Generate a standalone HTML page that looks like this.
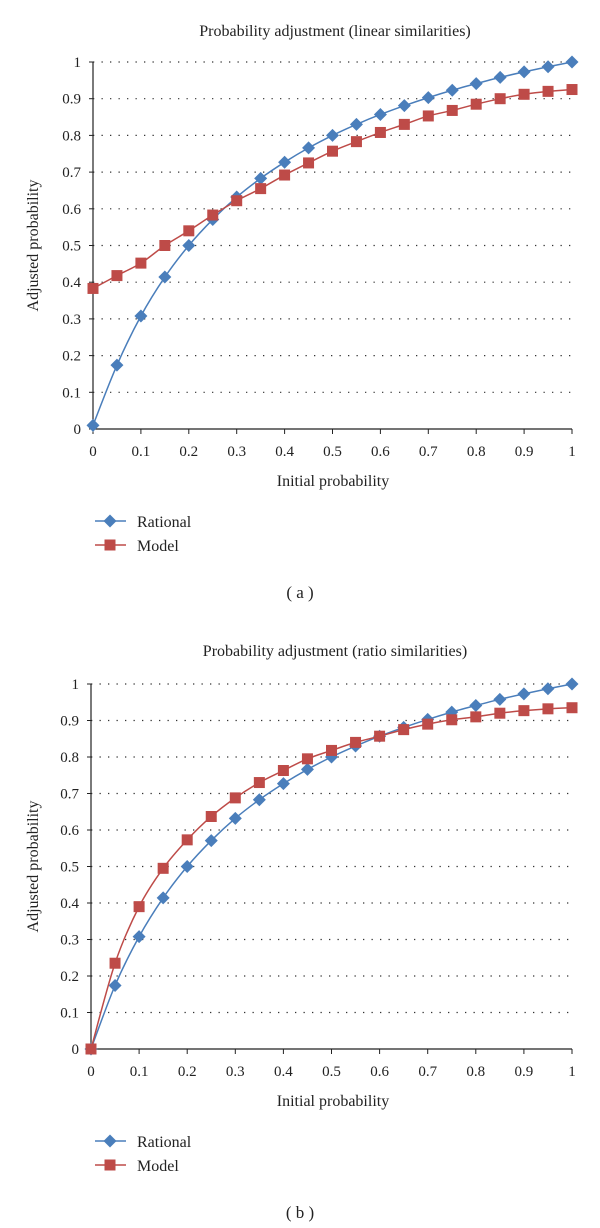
<!DOCTYPE html>
<html><head><meta charset="utf-8"><style>
body{margin:0;background:#fff;width:600px;height:1228px;overflow:hidden}
svg{display:block}
text{font-family:"Liberation Serif",serif;fill:#222}
</style></head><body>
<svg id="s" width="600" height="1228"></svg>
<script>
const xCats=[0,0.05,0.1,0.15,0.2,0.25,0.3,0.35,0.4,0.45,0.5,0.55,0.6,0.65,0.7,0.75,0.8,0.85,0.9,0.95,1];
const rationalA=[0.01,0.174,0.308,0.414,0.5,0.571,0.632,0.683,0.727,0.766,0.8,0.83,0.857,0.881,0.903,0.923,0.941,0.958,0.973,0.987,1];
const modelA=[0.383,0.418,0.452,0.5,0.54,0.583,0.622,0.655,0.692,0.725,0.757,0.783,0.808,0.83,0.853,0.868,0.885,0.9,0.912,0.92,0.925];
const rationalB=[0.0,0.174,0.308,0.414,0.5,0.571,0.632,0.683,0.727,0.766,0.8,0.83,0.857,0.881,0.903,0.923,0.941,0.958,0.973,0.987,1];
const modelB=[0,0.235,0.39,0.495,0.573,0.637,0.688,0.73,0.763,0.795,0.818,0.84,0.857,0.875,0.89,0.902,0.91,0.92,0.927,0.932,0.935];
const xTicks=[0,0.1,0.2,0.3,0.4,0.5,0.6,0.7,0.8,0.9,1];
const yTicks=[0,0.1,0.2,0.3,0.4,0.5,0.6,0.7,0.8,0.9,1];
const NS="http://www.w3.org/2000/svg";
const S=document.getElementById('s');
function mk(tag,at,par){const e=document.createElementNS(NS,tag);for(const k in at)e.setAttribute(k,at[k]);(par||S).appendChild(e);return e;}
function smooth(pts){let d=`M${pts[0][0]},${pts[0][1]}`;for(let i=0;i<pts.length-1;i++){const p0=pts[i-1]||pts[i],p1=pts[i],p2=pts[i+1],p3=pts[i+2]||p2;d+=` C${p1[0]+(p2[0]-p0[0])/6},${p1[1]+(p2[1]-p0[1])/6} ${p2[0]-(p3[0]-p1[0])/6},${p2[1]-(p3[1]-p1[1])/6} ${p2[0]},${p2[1]}`;}return d;}
function chart(id,title,top,y0,y1,x0,x1,rat,mod,lab){
  const g=mk('g',{});
  
  
  const X=v=>x0+(x1-x0)*v, Y=v=>y0+(y1-y0)*v;
  const t=mk('text',{x:335,y:top,'font-size':16,'text-anchor':'middle'},g);t.textContent=title;
  
  yTicks.forEach(v=>{
    if(v>0){const l=mk('line',{x1:x0,x2:x1,y1:Y(v),y2:Y(v),stroke:'#333','stroke-width':1.2,'stroke-dasharray':'1.3 7.2'},g);
      }
    const tl=mk('text',{x:x0-12,y:Y(v)+5,'font-size':15,'text-anchor':'end'},g);tl.textContent=v;
    
    mk('line',{x1:x0-4,x2:x0,y1:Y(v),y2:Y(v),stroke:'#222','stroke-width':1},g);
  });
  xTicks.forEach(v=>{
    mk('line',{x1:X(v),x2:X(v),y1:y0,y2:y0+5,stroke:'#222','stroke-width':1},g);
    const tl=mk('text',{x:X(v),y:y0+27,'font-size':15,'text-anchor':'middle'},g);tl.textContent=v;
    
  });
  const ax=mk('line',{x1:x0,x2:x0,y1:y0,y2:y1,stroke:'#222','stroke-width':1.2},g);
  
  const axx=mk('line',{x1:x0,x2:x1,y1:y0,y2:y0,stroke:'#222','stroke-width':1.2},g);
  
  const xt=mk('text',{x:333,y:y0+57,'font-size':16,'text-anchor':'middle'},g);xt.textContent='Initial probability';
  
  const ym=(y0+y1)/2;
  const yt=mk('text',{x:38,y:ym,'font-size':16,'text-anchor':'middle',transform:`rotate(-90 38 ${ym})`},g);yt.textContent='Adjusted probability';
  
  [[rat,'#4a7ebb','d','rational-series'],[mod,'#be4b48','s','model-series']].forEach(([arr,c,shape,nm])=>{
    const pts=arr.map((v,i)=>[X(xCats[i]),Y(v)]);
    const p=mk('path',{d:smooth(pts),fill:'none',stroke:c,'stroke-width':1.5},g);
    
    pts.forEach(([px,py])=>{
      const m=shape==='d'?mk('path',{d:`M${px},${py-6.5}L${px+6.5},${py}L${px},${py+6.5}L${px-6.5},${py}Z`,fill:c},g)
        :mk('rect',{x:px-5.5,y:py-5.5,width:11,height:11,fill:c},g);
      
    });
  });
  const ly=y0+92;
  [['Rational','#4a7ebb','d'],['Model','#be4b48','s']].forEach(([n,c,sh],i)=>{
    const yy=ly+i*24;
    const le=mk('g',{},g);
    mk('line',{x1:95,x2:126,y1:yy,y2:yy,stroke:c,'stroke-width':1.5},le);
    if(sh==='d')mk('path',{d:`M110,${yy-6.5}L116.5,${yy}L110,${yy+6.5}L103.5,${yy}Z`,fill:c},le);
    else mk('rect',{x:104.5,y:yy-5.5,width:11,height:11,fill:c},le);
    const tx=mk('text',{x:137,y:yy+6,'font-size':16},le);tx.textContent=n;
  });
  const pl=mk('text',{x:300,y:lab,'font-size':17,'text-anchor':'middle','font-family':'Liberation Sans'},g);pl.textContent='( '+id.slice(-1)+' )';
  
}
chart('chart-a','Probability adjustment (linear similarities)',36,429,62,93,572,rationalA,modelA,598);
chart('chart-b','Probability adjustment (ratio similarities)',656,1049,684,91,572,rationalB,modelB,1218);
</script>
</body></html>
